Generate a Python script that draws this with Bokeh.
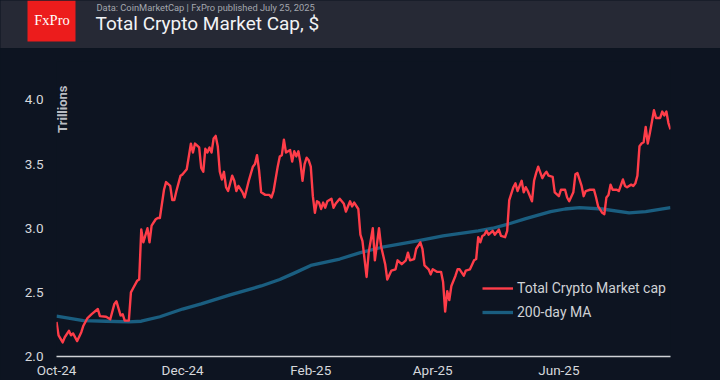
import pandas as pd
from math import pi
from bokeh.plotting import figure
from bokeh.layouts import column
from bokeh.models import (Range1d, FixedTicker, NumeralTickFormatter, DatetimeTickFormatter,
                          Legend, Label, BoxAnnotation, ColumnDataSource, GlobalInlineStyleSheet)
from bokeh.embed import file_html
from bokeh.resources import INLINE

# ---------------- data ----------------
start_date = "2024-10-01"

cap_days = [0, 1, 3, 4, 6, 7, 8, 10, 12, 13, 15, 17, 20, 21, 24, 26, 28, 29, 31, 32, 33, 35, 36, 37,
            39, 40, 41, 42, 44, 45, 46, 48, 49, 50, 52, 53, 55, 56, 57, 58, 60, 61, 63, 65, 66, 67,
            69, 70, 71, 72, 73, 74, 75, 76, 77, 78, 79, 80, 81, 82, 83, 85, 86, 87, 88, 90, 91, 93,
            95, 96, 97, 98, 99, 101, 103, 104, 105, 107, 108, 109, 110, 111, 113, 114, 115, 116, 117,
            118, 119, 120, 121, 122, 123, 124, 125, 126, 127, 128, 129, 130, 131, 133, 134, 135, 137,
            139, 140, 142, 143, 144, 146, 147, 148, 150, 151, 153, 154, 156, 157, 159, 160, 162, 164,
            165, 167, 169, 170, 171, 173, 174, 176, 177, 178, 180, 181, 182, 184, 186, 187, 188, 189,
            190, 191, 193, 194, 195, 197, 198, 200, 202, 203, 204, 205, 206, 207, 208, 209, 211, 212,
            214, 215, 217, 218, 219, 221, 222, 223, 224, 225, 226, 227, 228, 230, 231, 232, 233, 235,
            236, 237, 238, 240, 241, 243, 244, 246, 247, 248, 250, 251, 252, 254, 255, 256, 258, 260,
            261, 262, 264, 265, 266, 267, 268, 269, 271, 272, 274, 275, 276, 278, 279, 280, 281, 282,
            283, 284, 285, 286, 287, 288, 289, 290, 292, 293, 294, 295, 296, 297]

cap_values = [2.27, 2.165, 2.11, 2.15, 2.20, 2.165, 2.18, 2.12, 2.19, 2.24, 2.30, 2.33, 2.37, 2.315,
              2.31, 2.29, 2.41, 2.43, 2.32, 2.33, 2.28, 2.28, 2.50, 2.53, 2.59, 2.60, 2.99, 2.89,
              3.00, 2.89, 3.02, 3.07, 3.08, 3.08, 3.30, 3.36, 3.33, 3.22, 3.22, 3.29, 3.41, 3.42,
              3.46, 3.66, 3.59, 3.66, 3.63, 3.47, 3.44, 3.62, 3.59, 3.63, 3.59, 3.70, 3.72, 3.64,
              3.44, 3.38, 3.44, 3.32, 3.29, 3.41, 3.37, 3.29, 3.33, 3.28, 3.24, 3.37, 3.48, 3.50,
              3.57, 3.45, 3.28, 3.26, 3.26, 3.24, 3.29, 3.48, 3.56, 3.57, 3.69, 3.59, 3.61, 3.52,
              3.60, 3.56, 3.60, 3.51, 3.37, 3.50, 3.55, 3.53, 3.48, 3.25, 3.12, 3.21, 3.20, 3.15,
              3.20, 3.16, 3.21, 3.23, 3.16, 3.19, 3.23, 3.19, 3.13, 3.21, 3.17, 3.20, 3.15, 2.95,
              2.90, 2.62, 2.81, 3.00, 2.75, 3.00, 2.86, 2.72, 2.60, 2.67, 2.68, 2.75, 2.72, 2.75,
              2.81, 2.75, 2.76, 2.84, 2.89, 2.84, 2.71, 2.68, 2.64, 2.68, 2.66, 2.66, 2.58, 2.35,
              2.51, 2.44, 2.55, 2.63, 2.68, 2.68, 2.63, 2.67, 2.68, 2.75, 2.76, 2.93, 2.89, 2.94,
              2.95, 2.98, 2.95, 2.98, 2.95, 2.99, 2.94, 2.93, 2.98, 3.22, 3.32, 3.35, 3.29, 3.33,
              3.37, 3.28, 3.32, 3.29, 3.21, 3.37, 3.43, 3.48, 3.39, 3.42, 3.44, 3.41, 3.40, 3.28,
              3.25, 3.30, 3.30, 3.24, 3.21, 3.28, 3.42, 3.43, 3.33, 3.25, 3.29, 3.30, 3.30, 3.24,
              3.17, 3.12, 3.11, 3.24, 3.26, 3.34, 3.30, 3.30, 3.29, 3.38, 3.33, 3.32, 3.34, 3.33,
              3.35, 3.41, 3.64, 3.66, 3.67, 3.79, 3.66, 3.74, 3.83, 3.92, 3.86, 3.86, 3.91, 3.88,
              3.91, 3.82, 3.77]

ma_days = [0, 13, 24, 35, 41, 50, 61, 70, 84, 99, 108, 115, 123, 137, 147, 157, 174, 187, 204,
           211, 218, 227, 239, 246, 253, 264, 277, 285, 297]
ma_values = [2.315, 2.28, 2.275, 2.27, 2.275, 2.31, 2.37, 2.41, 2.48, 2.55, 2.60, 2.65, 2.71, 2.76,
             2.81, 2.85, 2.90, 2.94, 2.98, 3.00, 3.03, 3.075, 3.13, 3.15, 3.16, 3.15, 3.12, 3.13,
             3.16]

tick_dates = ["2024-10-01", "2024-12-01", "2025-02-01", "2025-04-01", "2025-06-01"]
tick_labels = ["Oct-24", "Dec-24", "Feb-25", "Apr-25", "Jun-25"]
y_ticks = [2.0, 2.5, 3.0, 3.5, 4.0]

series_names = ["Total Crypto Market cap", "200-day MA"]
title_text = "Total Crypto Market Cap, $"
source_text = "Data: CoinMarketCap | FxPro published July 25, 2025"
brand_text = "FxPro"
unit_text = "Trillions"

# ---------------- styling ----------------
BODY = "#0d1421"
HEADER = "#262935"
RED = "#ff3d49"
BLUE = "#1a5e80"
TXT = "#d6d8dc"
FONT = "Roboto"

# ---------------- header strip ----------------
h = figure(width=720, height=48, output_backend="svg", toolbar_location=None,
           x_range=Range1d(0, 720), y_range=Range1d(48, 0),
           x_axis_location=None, y_axis_location=None, min_border=0)
h.frame_align = False
h.background_fill_color = HEADER
h.border_fill_color = HEADER
h.outline_line_color = None
h.grid.visible = False
h.add_layout(BoxAnnotation(left=27, right=75, top=0, bottom=41, fill_color="#ec1c1c", fill_alpha=1,
                           line_alpha=0))
h.add_layout(Label(x=51.5, y=19, text=brand_text, text_align="center", text_baseline="middle",
                   text_font="Liberation Serif", text_font_size="14.5px", text_color="white"))
h.add_layout(Label(x=96, y=6.5, text=source_text, text_align="left", text_baseline="middle",
                   text_font=FONT, text_font_size="9.3px", text_color="#a3a7ae"))
h.add_layout(Label(x=95, y=22.5, text=title_text, text_align="left", text_baseline="middle",
                   text_font=FONT, text_font_size="19px", text_color="#f2f3f5"))

# ---------------- main chart ----------------
t0 = pd.Timestamp(start_date)
cap_src = ColumnDataSource(dict(date=t0 + pd.to_timedelta(cap_days, unit="D"), value=cap_values))
ma_src = ColumnDataSource(dict(date=t0 + pd.to_timedelta(ma_days, unit="D"), value=ma_values))

x_start = t0 + pd.Timedelta(days=min(cap_days))
x_end = t0 + pd.Timedelta(days=max(cap_days))

p = figure(width=720, height=332, x_axis_type="datetime", output_backend="svg",
           toolbar_location=None, x_range=Range1d(x_start, x_end), y_range=Range1d(2.0, 4.3),
           min_border_left=56, min_border_right=50, min_border_top=13, min_border_bottom=22)
p.frame_align = False
p.background_fill_color = BODY
p.border_fill_color = BODY
p.outline_line_color = None
p.grid.visible = False

p.add_layout(Label(x=5.5, y=271, x_units="screen", y_units="screen", text=unit_text, angle=pi / 2,
                   text_align="right", text_baseline="middle", text_font=FONT, text_font_size="13px",
                   text_font_style="bold", text_color="#b9bcc2"))

r_ma = p.line("date", "value", source=ma_src, line_color=BLUE, line_width=3.3, line_join="round")
r_cap = p.line("date", "value", source=cap_src, line_color=RED, line_width=2.4, line_join="round")

xa = p.xaxis[0]
tick_ms = [float(pd.Timestamp(d).value // 10**6) for d in tick_dates]
xa.ticker = FixedTicker(ticks=tick_ms)
xa.formatter = DatetimeTickFormatter(days="%b-%y", months="%b-%y", years="%b-%y")
xa.major_label_overrides = {t: lab for t, lab in zip(tick_ms, tick_labels)}
xa.axis_line_color = "#d0d2d6"
xa.axis_line_width = 1.6
xa.major_tick_line_color = None
xa.minor_tick_line_color = None
xa.major_tick_out = 0
xa.major_label_standoff = 5
xa.major_label_text_font = FONT
xa.major_label_text_font_size = "13.5px"
xa.major_label_text_color = TXT

ya = p.yaxis[0]
ya.ticker = FixedTicker(ticks=y_ticks)
ya.formatter = NumeralTickFormatter(format="0.0")
ya.axis_line_color = None
ya.major_tick_line_color = None
ya.minor_tick_line_color = None
ya.major_tick_out = 0
ya.major_label_standoff = 13
ya.major_label_text_font = FONT
ya.major_label_text_font_size = "13.5px"
ya.major_label_text_color = TXT

legend = Legend(items=[(series_names[0], [r_cap]), (series_names[1], [r_ma])], location=(426, 34),
                background_fill_alpha=0, border_line_alpha=0, padding=0, margin=0, spacing=4,
                glyph_width=31, glyph_height=20, label_height=20, label_standoff=4,
                label_text_font=FONT, label_text_font_size="14px", label_text_color="#cfd1d5")
p.add_layout(legend)

page = column(h, p, spacing=0)
page.stylesheets = [GlobalInlineStyleSheet(
    css=f"html, body {{ margin: 0; padding: 0; background: {BODY}; overflow: hidden; }}")]

open("out.html", "w").write(file_html(page, INLINE))
